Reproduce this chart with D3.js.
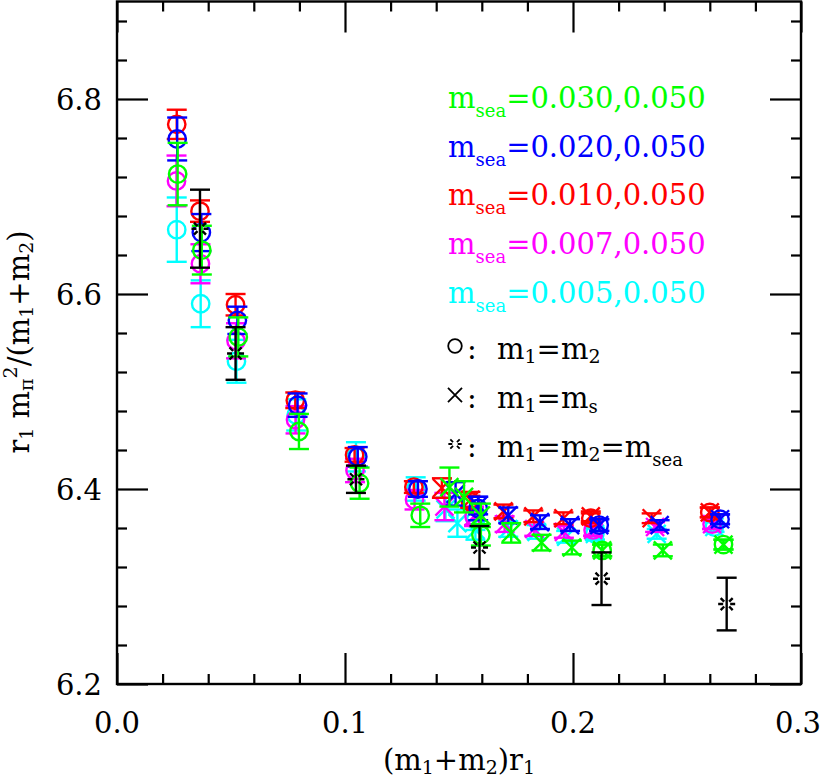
<!DOCTYPE html>
<html>
<head>
<meta charset="utf-8">
<script src="https://cdn.jsdelivr.net/npm/d3@7/dist/d3.min.js"></script>
<style>
  html, body { margin: 0; padding: 0; background: #fff; }
  svg { display: block; }
  text { font-family: "DejaVu Serif", serif; }
</style>
</head>
<body>
<svg id="chart" width="822" height="779"></svg>
<script>
// ---------------- data ----------------
const xMajorTicks = [0.0, 0.1, 0.2, 0.3];
const xMinorTicks = [0.02, 0.04, 0.06, 0.08, 0.12, 0.14, 0.16, 0.18, 0.22, 0.24, 0.26, 0.28];
const yMajorTicks = [6.2, 6.4, 6.6, 6.8];
const yMinorTicks = [6.24, 6.28, 6.32, 6.36, 6.44, 6.48, 6.52, 6.56, 6.64, 6.68, 6.72, 6.76, 6.84, 6.88];
const xTickLabels = ["0.0", "0.1", "0.2", "0.3"];
const yTickLabels = ["6.2", "6.4", "6.6", "6.8"];

const seaLabels = ["=0.030,0.050", "=0.020,0.050", "=0.010,0.050", "=0.007,0.050", "=0.005,0.050"];

// m_sea = 0.010 (red)
const redOx = [0.0262, 0.0364, 0.0520, 0.0782, 0.1042, 0.1302, 0.1550, 0.2078, 0.2600];
const redOy = [6.774, 6.685, 6.589, 6.491, 6.435, 6.402, 6.387, 6.370, 6.376];
const redOe = [0.015, 0.011, 0.011, 0.008, 0.007, 0.006, 0.006, 0.005, 0.005];
const redXx = [0.1425, 0.1550, 0.1695, 0.1826, 0.1958, 0.2078, 0.2345, 0.2600];
const redXy = [6.401, 6.389, 6.377, 6.372, 6.370, 6.372, 6.370, 6.376];
const redXe = [0.010, 0.008, 0.007, 0.006, 0.006, 0.005, 0.005, 0.005];

// m_sea = 0.020 (blue)
const blueOx = [0.0264, 0.0370, 0.0528, 0.0792, 0.1056, 0.1320, 0.1584, 0.2115, 0.2645];
const blueOy = [6.759, 6.663, 6.573, 6.486, 6.433, 6.400, 6.380, 6.363, 6.369];
const blueOe = [0.022, 0.019, 0.014, 0.012, 0.010, 0.008, 0.012, 0.006, 0.005];
const blueXx = [0.1485, 0.1584, 0.1716, 0.1855, 0.1987, 0.2115, 0.2380, 0.2645];
const blueXy = [6.395, 6.383, 6.373, 6.366, 6.363, 6.363, 6.363, 6.369];
const blueXe = [0.012, 0.009, 0.008, 0.007, 0.006, 0.006, 0.005, 0.005];

// m_sea = 0.030 (green)
const greenOx = [0.0266, 0.0372, 0.0532, 0.0798, 0.1064, 0.1330, 0.1596, 0.2128, 0.2660];
const greenOy = [6.723, 6.645, 6.556, 6.459, 6.406, 6.373, 6.353, 6.337, 6.343];
const greenOe = [0.032, 0.025, 0.020, 0.018, 0.016, 0.012, 0.011, 0.006, 0.005];
const greenXx = [0.1458, 0.1522, 0.1596, 0.1729, 0.1862, 0.1995, 0.2128, 0.2394, 0.2660];
const greenXy = [6.402, 6.392, 6.373, 6.355, 6.345, 6.340, 6.337, 6.337, 6.343];
const greenXe = [0.020, 0.016, 0.012, 0.010, 0.008, 0.007, 0.006, 0.006, 0.005];

// m_sea = 0.007 (magenta)
const magOx = [0.0261, 0.0366, 0.0522, 0.0783, 0.1044, 0.1305, 0.1566, 0.2088, 0.2610];
const magOy = [6.716, 6.631, 6.552, 6.471, 6.419, 6.389, 6.372, 6.358, 6.364];
const magOe = [0.026, 0.020, 0.018, 0.014, 0.012, 0.010, 0.009, 0.006, 0.005];
const magXx = [0.1436, 0.1566, 0.1700, 0.1830, 0.1960, 0.2088, 0.2360, 0.2610];
const magXy = [6.382, 6.372, 6.364, 6.359, 6.356, 6.358, 6.361, 6.364];
const magXe = [0.014, 0.010, 0.008, 0.007, 0.006, 0.006, 0.005, 0.005];

// m_sea = 0.005 (cyan)
const cyanOx = [0.0262, 0.0367, 0.0524, 0.0786, 0.1048, 0.1310, 0.1572, 0.2096, 0.2620];
const cyanOy = [6.666, 6.590, 6.531, 6.476, 6.433, 6.400, 6.368, 6.354, 6.361];
const cyanOe = [0.033, 0.024, 0.022, 0.016, 0.015, 0.012, 0.010, 0.006, 0.005];
const cyanXx = [0.1441, 0.1493, 0.1572, 0.1716, 0.1840, 0.1970, 0.2096, 0.2367, 0.2620];
const cyanXy = [6.379, 6.365, 6.358, 6.359, 6.356, 6.351, 6.354, 6.354, 6.361];
const cyanXe = [0.012, 0.014, 0.010, 0.008, 0.007, 0.006, 0.006, 0.005, 0.005];

// m1 = m2 = m_sea (black)
const seaX = [0.0364, 0.0520, 0.1048, 0.1590, 0.2125, 0.2674];
const seaY = [6.667, 6.539, 6.410, 6.340, 6.308, 6.282];
const seaE = [0.040, 0.027, 0.014, 0.022, 0.027, 0.027];

// ---------------- styles ----------------
const COLORS = { green: "#00ff00", blue: "#0000ff", red: "#ff0000", magenta: "#ff00ff", cyan: "#00ffff", black: "#000000" };

// ---------------- chart ----------------
const svg = d3.select("#chart");
const X0 = 117, X1 = 801, Y0 = 684, Y1 = 1.5;
const x = d3.scaleLinear().domain([0, 0.3]).range([X0, X1]);
const y = d3.scaleLinear().domain([6.2, 6.9]).range([Y0, Y1]);

const MAJ = 31, MIN = 10;
function axisG(axis, tx, ty) {
  const g = svg.append("g").attr("transform", `translate(${tx},${ty})`).call(axis);
  g.select(".domain").remove();
  g.selectAll(".tick line").attr("stroke", "#000").attr("stroke-width", 2.2);
  return g;
}
axisG(d3.axisBottom(x).tickValues(xMajorTicks).tickSize(-MAJ).tickFormat(""), 0, Y0);
axisG(d3.axisBottom(x).tickValues(xMinorTicks).tickSize(-MIN).tickFormat(""), 0, Y0);
axisG(d3.axisTop(x).tickValues(xMajorTicks).tickSize(-MAJ).tickFormat(""), 0, Y1);
axisG(d3.axisTop(x).tickValues(xMinorTicks).tickSize(-MIN).tickFormat(""), 0, Y1);
axisG(d3.axisLeft(y).tickValues(yMajorTicks).tickSize(-MAJ).tickFormat(""), X0, 0);
axisG(d3.axisLeft(y).tickValues(yMinorTicks).tickSize(-MIN).tickFormat(""), X0, 0);
axisG(d3.axisRight(y).tickValues(yMajorTicks).tickSize(-MAJ).tickFormat(""), X1, 0);
axisG(d3.axisRight(y).tickValues(yMinorTicks).tickSize(-MIN).tickFormat(""), X1, 0);

svg.append("rect").attr("x", X0).attr("y", Y1).attr("width", X1 - X0).attr("height", Y0 - Y1)
  .attr("fill", "none").attr("stroke", "#000").attr("stroke-width", 2.4);

// tick labels
svg.append("g").selectAll("text").data(xMajorTicks).join("text")
  .attr("x", (d, i) => i === xMajorTicks.length - 1 ? 821 : x(d)).attr("y", 733)
  .attr("text-anchor", (d, i) => i === xMajorTicks.length - 1 ? "end" : "middle")
  .attr("font-size", 29).attr("fill", "#000").text((d, i) => xTickLabels[i]);
svg.append("g").selectAll("text").data(yMajorTicks).join("text")
  .attr("x", 102).attr("y", d => y(d) + 10.5).attr("text-anchor", "end")
  .attr("font-size", 29).attr("fill", "#000").text((d, i) => yTickLabels[i]);

// axis titles
function addParts(t, parts) {
  parts.forEach(p => {
    const ts = t.append("tspan").text(p.t);
    if (p.s) ts.attr("font-size", p.s);
    if (p.dy) ts.attr("dy", p.dy);
  });
}
const xt = svg.append("text").attr("x", 459).attr("y", 770).attr("text-anchor", "middle")
  .attr("font-size", 29).attr("fill", "#000");
addParts(xt, [{t:"(m"},{t:"1", s:19, dy:4},{t:"+m", dy:-4},{t:"2", s:19, dy:4},{t:")r", dy:-4},{t:"1", s:19, dy:4}]);

const yt = svg.append("text").attr("transform", "translate(29,342) rotate(-90)").attr("text-anchor", "middle")
  .attr("font-size", 29).attr("fill", "#000");
addParts(yt, [{t:"r"},{t:"1", s:19, dy:4},{t:" m", dy:-4},{t:"π", s:19, dy:4},{t:"2", s:19, dy:-16},
  {t:"/(m", dy:12},{t:"1", s:19, dy:4},{t:"+m", dy:-4},{t:"2", s:19, dy:4},{t:")", dy:-4}]);

// ---------------- symbols ----------------
const R = 8.7, XS = 9, CAP = 10;
function drawShape(sel, shape, cx, cy, k) {
  if (shape === "o") {
    sel.append("circle").attr("cx", cx).attr("cy", cy).attr("r", R * k);
  } else if (shape === "x") {
    const s = XS * k;
    sel.append("path").attr("d", `M${cx - s},${cy - s}L${cx + s},${cy + s}M${cx - s},${cy + s}L${cx + s},${cy - s}`);
  } else if (shape === "burst") {
    const r0 = 3.5 * k, r1 = 8.5 * k;
    let d = "";
    [0, 45, 135, 180, 225, 315].forEach(a => {
      const c = Math.cos(a * Math.PI / 180), s = Math.sin(a * Math.PI / 180);
      d += `M${cx + r0 * c},${cy + r0 * s}L${cx + r1 * c},${cy + r1 * s}`;
    });
    sel.append("path").attr("d", d);
  }
}
function drawSeries(color, xs, ys, es, shape) {
  const g = svg.append("g").attr("stroke", color).attr("stroke-width", 2.4).attr("fill", "none");
  const data = xs.map((d, i) => ({ x: d, y: ys[i], e: es[i] }));
  const pg = g.selectAll("g").data(data).join("g");
  pg.append("line").attr("x1", d => x(d.x)).attr("x2", d => x(d.x))
    .attr("y1", d => y(d.y + d.e)).attr("y2", d => y(d.y - d.e));
  pg.append("line").attr("x1", d => x(d.x) - CAP).attr("x2", d => x(d.x) + CAP)
    .attr("y1", d => y(d.y + d.e)).attr("y2", d => y(d.y + d.e));
  pg.append("line").attr("x1", d => x(d.x) - CAP).attr("x2", d => x(d.x) + CAP)
    .attr("y1", d => y(d.y - d.e)).attr("y2", d => y(d.y - d.e));
  pg.each(function(d) { drawShape(d3.select(this), shape, x(d.x), y(d.y), 1); });
}

drawSeries(COLORS.cyan, cyanOx, cyanOy, cyanOe, "o");
drawSeries(COLORS.cyan, cyanXx, cyanXy, cyanXe, "x");
drawSeries(COLORS.magenta, magOx, magOy, magOe, "o");
drawSeries(COLORS.magenta, magXx, magXy, magXe, "x");
drawSeries(COLORS.red, redOx, redOy, redOe, "o");
drawSeries(COLORS.red, redXx, redXy, redXe, "x");
drawSeries(COLORS.blue, blueOx, blueOy, blueOe, "o");
drawSeries(COLORS.blue, blueXx, blueXy, blueXe, "x");
drawSeries(COLORS.green, greenOx, greenOy, greenOe, "o");
drawSeries(COLORS.green, greenXx, greenXy, greenXe, "x");
drawSeries(COLORS.black, seaX, seaY, seaE, "burst");

// ---------------- legend ----------------
const legColors = [COLORS.green, COLORS.blue, COLORS.red, COLORS.magenta, COLORS.cyan];
const legBase = [108, 157, 205, 254, 303];
seaLabels.forEach((lab, i) => {
  const t = svg.append("text").attr("x", 448).attr("y", legBase[i]).attr("font-size", 29).attr("fill", legColors[i]);
  addParts(t, [{t:"m"},{t:"sea", s:18, dy:9},{t:lab, dy:-9}]);
});
const symRows = [
  { shape: "o", base: 359, parts: [{t:"m"},{t:"1", s:19, dy:4},{t:"=m", dy:-4},{t:"2", s:19, dy:4}] },
  { shape: "x", base: 408, parts: [{t:"m"},{t:"1", s:19, dy:4},{t:"=m", dy:-4},{t:"s", s:18, dy:5}] },
  { shape: "burst", base: 457, parts: [{t:"m"},{t:"1", s:19, dy:4},{t:"=m", dy:-4},{t:"2", s:19, dy:4},{t:"=m", dy:-4},{t:"sea", s:18, dy:9}] }
];
symRows.forEach(r => {
  const g = svg.append("g").attr("stroke", "#000").attr("stroke-width", 1.8).attr("fill", "none");
  drawShape(g, r.shape, 455, r.base - 13, 0.78);
  svg.append("text").attr("x", 467).attr("y", r.base).attr("font-size", 29).attr("fill", "#000").text(":");
  const t = svg.append("text").attr("x", 497).attr("y", r.base).attr("font-size", 29).attr("fill", "#000");
  addParts(t, r.parts);
});
</script>
</body>
</html>
